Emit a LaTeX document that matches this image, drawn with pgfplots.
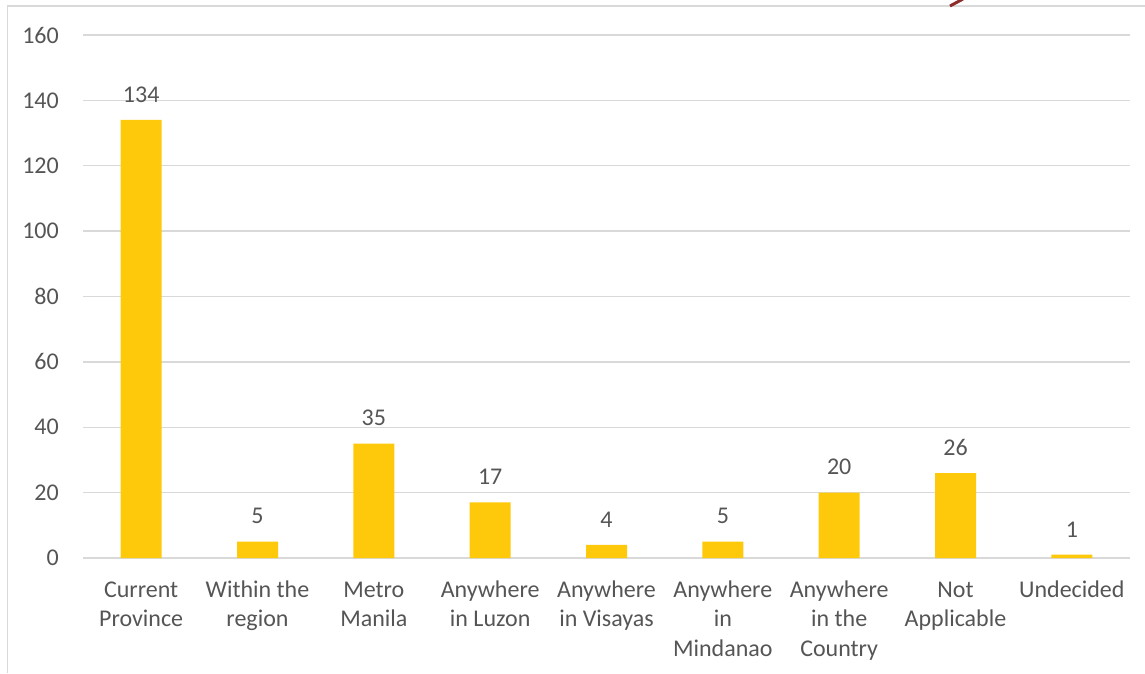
\documentclass[border=0pt]{standalone}
\usepackage{fontspec}
\setmainfont{Carlito}
\usepackage{pgfplots}
\pgfplotsset{compat=1.18}
\definecolor{bargold}{HTML}{FFC90B}
\definecolor{txt}{HTML}{555555}
\definecolor{gridc}{HTML}{D9D9D9}
\definecolor{darkred}{HTML}{8E2B2B}
\begin{document}
\begin{tikzpicture}
\begin{axis}[
  at={(83pt,115pt)}, anchor=south west,
  scale only axis, width=1047pt, height=523pt,
  xmin=-0.5, xmax=8.5, ymin=0, ymax=160,
  ytick={0,20,...,160},
  xtick={0,...,8},
  xticklabels={{\strut Current\\Province},{\strut Within the\\region},{\strut Metro\\Manila},{\strut Anywhere\\in Luzon},{\strut Anywhere\\in Visayas},{\strut Anywhere\\in\\Mindanao},{\strut Anywhere\\in the\\Country},{\strut Not\\Applicable},{\strut Undecided}},
  axis line style={draw=none},
  major tick length=0pt,
  ymajorgrids,
  grid style={gridc, line width=1.4pt},
  tick label style={font=\fontsize{24}{29.5}\selectfont, text=txt},
  /pgf/number format/assume math mode=true,
  yticklabel style={anchor=east, inner sep=0pt, xshift=-24pt},
  xticklabel style={anchor=north, align=center, inner sep=0pt, yshift=-18.4pt},
  ybar, bar width=41pt,
  nodes near coords,
  every node near coord/.append style={font=\fontsize{24}{29.5}\selectfont, text=txt, anchor=south, inner sep=0pt, yshift=17.5pt},
  clip=false,
]
\addplot[fill=bargold, draw=none] coordinates {(0,134) (1,5) (2,35) (3,17) (4,4) (5,5) (6,20) (7,26) (8,1)};
\end{axis}
\draw[gridc, line width=1.5pt] (7.5pt,0pt) -- (7.5pt,667pt) -- (1146pt,667pt);
\draw[darkred, line width=3pt] (950pt,667pt) -- (963pt,674pt);
\pgfresetboundingbox
\useasboundingbox (0pt,0pt) rectangle (1145pt,673pt);
\end{tikzpicture}
\end{document}
